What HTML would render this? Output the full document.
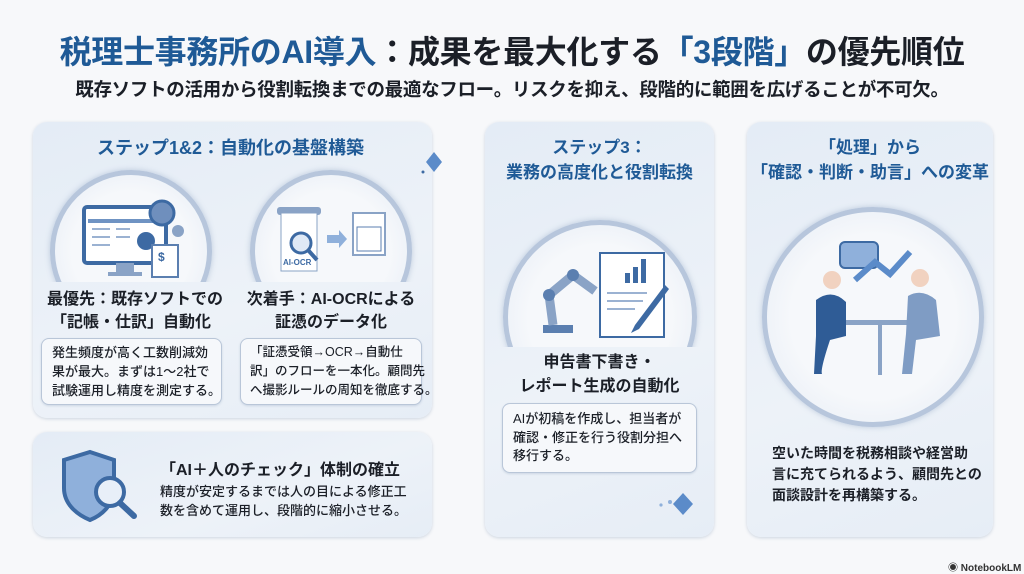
<!DOCTYPE html>
<html><head><meta charset="utf-8"><style>
*{margin:0;padding:0;box-sizing:border-box}
body{width:1024px;height:572px;overflow:hidden;background:#f7f8fa;font-family:"Liberation Sans","Noto Sans CJK JP",sans-serif;position:relative;color:#1b1f27}
.a{position:absolute;white-space:nowrap}
.panel{position:absolute;border-radius:14px;background:linear-gradient(160deg,#e4ecf6,#edf2f8 60%,#e6edf6);box-shadow:0 1px 3px rgba(80,110,150,.25)}
.h{font-weight:700;color:#1f5a96}
.b{font-weight:700;color:#1b1f27}
.box{position:absolute;border:1px solid #b9c6d8;border-radius:8px;background:#f6f8fb;box-shadow:0 1px 2px rgba(80,110,150,.2)}
.clip{position:absolute;overflow:hidden}
.ring{position:absolute;border-radius:50%;border:5px solid #b7c6dc;background:radial-gradient(circle,#f6f8fb 55%,#e3eaf4 100%);box-shadow:0 0 6px rgba(100,130,170,.35)}
</style></head><body>
<div class="a" style="left:0;width:1024px;top:27px;text-align:center;font-size:32px;font-weight:700;letter-spacing:-0.3px"><span style="color:#1f5a96">税理士事務所のAI導入</span>：成果を最大化する<span style="color:#1f5a96">「3段階」</span>の優先順位</div>
<div class="a" style="left:0;width:1024px;top:76px;text-align:center;font-size:18.5px;font-weight:700;letter-spacing:-0.3px">既存ソフトの活用から役割転換までの最適なフロー。リスクを抑え、段階的に範囲を広げることが不可欠。</div>

<div class="panel" style="left:33px;top:122px;width:399px;height:296px"></div>
<div class="panel" style="left:33px;top:432px;width:399px;height:105px"></div>
<div class="panel" style="left:485px;top:122px;width:229px;height:415px"></div>
<div class="panel" style="left:747px;top:122px;width:246px;height:415px"></div>

<div class="a h" style="left:97px;top:134px;font-size:18px">ステップ1&amp;2：自動化の基盤構築</div>
<div class="clip" style="left:40px;top:160px;width:390px;height:122px">
<div class="ring" style="left:10px;top:10px;width:162px;height:162px"></div>
<div class="ring" style="left:210px;top:10px;width:162px;height:162px"></div>
</div>
<svg class="a" style="left:80px;top:195px" width="110" height="90">
<rect x="4" y="12" width="82" height="56" rx="3" fill="#fff" stroke="#3d6aa3" stroke-width="4"/>
<rect x="8" y="24" width="74" height="4" fill="#6f93c3"/>
<g stroke="#9bb2d2" stroke-width="2"><line x1="12" y1="34" x2="30" y2="34"/><line x1="12" y1="42" x2="30" y2="42"/><line x1="12" y1="50" x2="30" y2="50"/><line x1="36" y1="34" x2="50" y2="34"/><line x1="36" y1="42" x2="50" y2="42"/></g>
<circle cx="66" cy="46" r="9" fill="#3d6aa3"/>
<rect x="36" y="68" width="18" height="9" fill="#8aa3c6"/><rect x="28" y="77" width="34" height="4" fill="#8aa3c6"/>
<circle cx="82" cy="18" r="12" fill="#6f8fbd" stroke="#3d6aa3" stroke-width="3"/><circle cx="98" cy="36" r="6" fill="#8aa3c6"/>
<rect x="72" y="50" width="26" height="32" fill="#fff" stroke="#5b7fb0" stroke-width="2"/><text x="78" y="66" font-size="12" fill="#3d6aa3" font-weight="700">$</text>
</svg>
<svg class="a" style="left:275px;top:205px" width="115" height="70">
<rect x="2" y="2" width="44" height="8" rx="3" fill="#8aa3c6"/>
<rect x="6" y="8" width="36" height="58" fill="#fff" stroke="#8aa3c6"/>
<text x="8" y="60" font-size="8" fill="#3d6aa3" font-weight="700">AI-OCR</text>
<circle cx="26" cy="38" r="10" fill="#dfe9f6" stroke="#3d6aa3" stroke-width="3"/><line x1="33" y1="45" x2="42" y2="55" stroke="#3d6aa3" stroke-width="4"/>
<path d="M52 30h12v-5l8 9-8 9v-5H52z" fill="#8fb0db"/>
<rect x="78" y="8" width="32" height="42" fill="#fff" stroke="#8aa3c6" stroke-width="2"/>
<rect x="82" y="22" width="24" height="24" fill="none" stroke="#5b7fb0"/>
</svg>
<div class="a b" style="left:47px;top:288px;font-size:16px;line-height:23px;text-align:center;width:168px">最優先：既存ソフトでの<br>「記帳・仕訳」自動化</div>
<div class="a b" style="left:246px;top:288px;font-size:16px;line-height:23px;text-align:center;width:170px">次着手：AI-OCRによる<br>証憑のデータ化</div>
<div class="box" style="left:41px;top:338px;width:181px;height:67px"></div>
<div class="box" style="left:240px;top:338px;width:182px;height:67px"></div>
<div class="a b" style="left:52px;top:343px;font-size:13px;line-height:19px;font-weight:500">発生頻度が高く工数削減効<br>果が最大。まずは1〜2社で<br>試験運用し精度を測定する。</div>
<div class="a b" style="left:250px;top:343px;font-size:12.5px;line-height:19px;font-weight:500">「証憑受領→OCR→自動仕<br>訳」のフローを一本化。顧問先<br>へ撮影ルールの周知を徹底する。</div>

<svg class="a" style="left:60px;top:448px" width="90" height="80">
<path d="M30 4 L54 12 V40 C54 58 40 68 30 72 C20 68 4 58 4 40 V12Z" fill="#8fb0db" stroke="#3d6aa3" stroke-width="4"/>
<circle cx="50" cy="44" r="14" fill="#e8eff8" stroke="#3d6aa3" stroke-width="4"/><line x1="60" y1="55" x2="74" y2="68" stroke="#3d6aa3" stroke-width="6" stroke-linecap="round"/>
</svg>
<div class="a b" style="left:160px;top:456px;font-size:16px">「AI＋人のチェック」体制の確立</div>
<div class="a b" style="left:160px;top:482px;font-size:13px;line-height:19px;font-weight:500">精度が安定するまでは人の目による修正工<br>数を含めて運用し、段階的に縮小させる。</div>

<div class="a h" style="left:485px;width:229px;text-align:center;top:135px;font-size:17px;line-height:25px">ステップ3：<br>業務の高度化と役割転換</div>
<div class="clip" style="left:495px;top:212px;width:210px;height:135px">
<div class="ring" style="left:8px;top:8px;width:194px;height:194px"></div>
</div>
<svg class="a" style="left:535px;top:245px" width="140" height="95">
<rect x="65" y="8" width="64" height="84" fill="#fff" stroke="#3d6aa3" stroke-width="2"/>
<rect x="90" y="28" width="5" height="10" fill="#3d6aa3"/><rect x="98" y="22" width="5" height="16" fill="#3d6aa3"/><rect x="106" y="14" width="5" height="24" fill="#3d6aa3"/>
<g stroke="#9bb2d2" stroke-width="2"><line x1="72" y1="48" x2="112" y2="48"/><line x1="72" y1="56" x2="108" y2="56"/><line x1="72" y1="64" x2="100" y2="64"/></g>
<path d="M8 88h30v-8H8z" fill="#5b7fb0"/><path d="M18 80 L14 50 L38 30 L60 46" fill="none" stroke="#8aa3c6" stroke-width="9"/>
<circle cx="14" cy="50" r="6" fill="#5b7fb0"/><circle cx="38" cy="30" r="6" fill="#5b7fb0"/>
<path d="M130 40 L100 80 L96 88 L104 84 L134 44Z" fill="#3d6aa3"/>
</svg>
<div class="a b" style="left:485px;width:229px;text-align:center;top:351px;font-size:16px;line-height:24px">申告書下書き・<br>レポート生成の自動化</div>
<div class="box" style="left:502px;top:403px;width:195px;height:70px"></div>
<div class="a b" style="left:513px;top:410px;font-size:13px;line-height:18.5px;font-weight:500">AIが初稿を作成し、担当者が<br>確認・修正を行う役割分担へ<br>移行する。</div>
<svg class="a" style="left:645px;top:490px" width="50" height="30"><path d="M38 3 L48 14 L38 25 L28 14Z" fill="#5b8bc9"/><circle cx="25" cy="12" r="2" fill="#8fb0db"/><circle cx="16" cy="15" r="1.6" fill="#8fb0db"/></svg>

<div class="a h" style="left:747px;width:246px;text-align:center;top:135px;font-size:17px;line-height:25px">「処理」から<br>「確認・判断・助言」への変革</div>
<div class="ring" style="left:762px;top:207px;width:222px;height:220px"></div>
<svg class="a" style="left:790px;top:240px" width="170" height="145">
<rect x="50" y="2" width="38" height="26" rx="5" fill="#8fb0db" stroke="#3d6aa3" stroke-width="2"/>
<path d="M65 40 L85 22 L100 34 L120 12" fill="none" stroke="#5b8bc9" stroke-width="6"/>
<rect x="38" y="80" width="110" height="5" fill="#8aa3c6"/><rect x="88" y="85" width="4" height="50" fill="#8aa3c6"/>
<circle cx="42" cy="40" r="9" fill="#f1d2c0"/><path d="M26 60 Q42 48 56 62 L56 96 L40 100 Q30 130 32 134 L24 134 L26 96Z" fill="#2f5c96"/>
<circle cx="130" cy="38" r="9" fill="#f1d2c0"/><path d="M118 56 Q132 48 146 60 L150 96 L126 100 L122 134 L112 134 L116 94Z" fill="#7f9cc4"/>
</svg>
<div class="a b" style="left:772px;top:443px;font-size:14px;line-height:21px">空いた時間を税務相談や経営助<br>言に充てられるよう、顧問先との<br>面談設計を再構築する。</div>

<svg class="a" style="left:420px;top:150px" width="50" height="60"><path d="M14 2 L22 12 L14 22 L6 12Z" fill="#5b8bc9"/><circle cx="3" cy="22" r="1.5" fill="#3d6aa3"/></svg>
<div class="a" style="left:948px;top:559px;font-size:10px;font-weight:700;color:#333">◉ NotebookLM</div>
</body></html>
